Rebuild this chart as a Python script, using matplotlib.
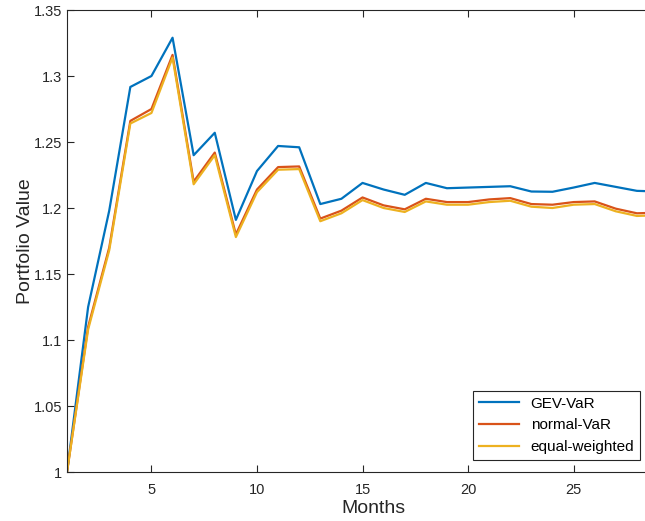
import numpy as np
import matplotlib
matplotlib.use("Agg")
import matplotlib.pyplot as plt

months = np.arange(1, 30)
gev_var = [1.0, 1.125, 1.198, 1.2917, 1.300, 1.329, 1.240, 1.257, 1.191, 1.228,
           1.247, 1.246, 1.203, 1.207, 1.219, 1.214, 1.210, 1.219, 1.215, 1.2155,
           1.216, 1.2165, 1.2125, 1.2123, 1.2155, 1.219, 1.216, 1.213, 1.2125]
normal_var = [1.0, 1.110, 1.170, 1.266, 1.275, 1.316, 1.220, 1.242, 1.180, 1.214,
              1.231, 1.2315, 1.192, 1.198, 1.208, 1.202, 1.199, 1.207, 1.2045, 1.2045,
              1.2065, 1.2075, 1.203, 1.2025, 1.2045, 1.205, 1.1995, 1.196, 1.1965]
equal_weighted = [1.0, 1.108, 1.168, 1.264, 1.272, 1.314, 1.218, 1.240, 1.178, 1.212,
                  1.229, 1.2295, 1.190, 1.196, 1.206, 1.200, 1.197, 1.205, 1.2025, 1.2025,
                  1.2045, 1.2055, 1.201, 1.200, 1.2025, 1.203, 1.1975, 1.194, 1.1945]

plt.rcParams['font.family'] = ['Liberation Sans', 'DejaVu Sans']
grey = '#262626'

fig = plt.figure(figsize=(6.45, 5.21), dpi=100)
# the original picture is cut off on the right, so the axes run past the figure edge
ax = fig.add_axes([0.1039, 0.094, 0.949, 0.8868])

ax.plot(months, gev_var, color=(0, 0.447, 0.741), lw=1.6, label='GEV-VaR')
ax.plot(months, normal_var, color=(0.85, 0.325, 0.098), lw=1.6, label='normal-VaR')
ax.plot(months, equal_weighted, color=(0.929, 0.694, 0.125), lw=1.6, label='equal-weighted')

ax.set_xlim(1, 30)
ax.set_ylim(1, 1.35)
ax.set_xticks([5, 10, 15, 20, 25])
ax.set_yticks(np.arange(1, 1.351, 0.05))
ax.set_yticklabels(['1', '1.05', '1.1', '1.15', '1.2', '1.25', '1.3', '1.35'])
ax.tick_params(direction='in', top=True, right=True, colors=grey, labelsize=10.5, length=5)
ax.tick_params(axis='x', pad=8)
for s in ax.spines.values():
    s.set_color(grey)
    s.set_linewidth(0.8)

ax.set_xlabel('Months', fontsize=14, color=grey, labelpad=2)
ax.set_ylabel('Portfolio Value', fontsize=14, color=grey, labelpad=0)

leg = ax.legend(loc='lower right', bbox_to_anchor=(0.993, 0.117), bbox_transform=fig.transFigure,
                fontsize=11, fancybox=False, framealpha=1, edgecolor=grey,
                handlelength=2.6, borderaxespad=0)
leg.get_frame().set_linewidth(0.8)

fig.savefig('out.png', dpi=100)
